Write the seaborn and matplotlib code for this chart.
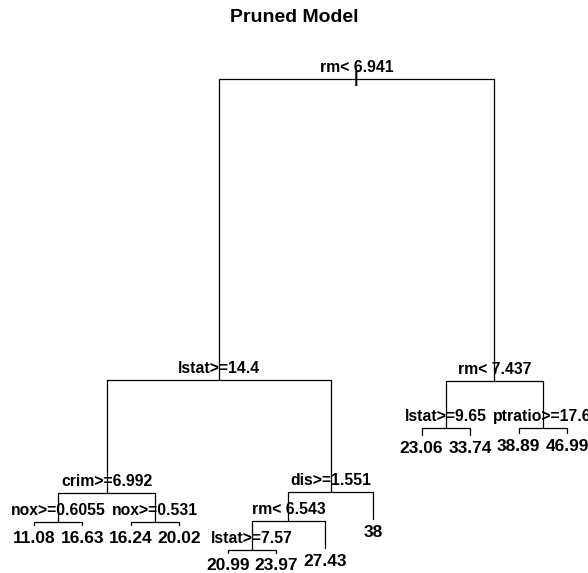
import matplotlib
matplotlib.use("Agg")
import matplotlib.pyplot as plt
import seaborn as sns
import pandas as pd

# rpart-style tree: node id, label, height (fit-improvement scale)
node_ids = [1, 2, 3, 4, 5, 8, 9, 16, 17, 18, 19, 10, 11, 20, 21, 40, 41, 6, 7, 12, 13, 14, 15]
node_labels = ["rm< 6.941", "lstat>=14.4", "rm< 7.437", "crim>=6.992", "dis>=1.551",
               "nox>=0.6055", "nox>=0.531", "11.08", "16.63", "16.24", "20.02",
               "rm< 6.543", "38", "lstat>=7.57", "27.43", "20.99", "23.97",
               "lstat>=9.65", "ptratio>=17.6", "23.06", "33.74", "38.89", "46.99"]
node_heights = [100, 37.4, 37.2, 13.9, 14.1, 7.9, 7.9, 7.3, 7.3, 7.3, 7.3,
                8.1, 8.5, 2.1, 2.5, 1.5, 1.5, 27.4, 27.4, 26.0, 26.0, 26.4, 26.4]
title = "Pruned Model"

height = dict(zip(node_ids, node_heights))
label = dict(zip(node_ids, node_labels))
idset = set(node_ids)

def children(n):
    return [c for c in (2 * n, 2 * n + 1) if c in idset]

# leaf x positions: equally spaced in left-to-right order; internal = midpoint
xpos = {}
counter = [0]
def assign(n):
    ch = children(n)
    if not ch:
        counter[0] += 1
        xpos[n] = counter[0]
    else:
        for c in ch:
            assign(c)
        xpos[n] = sum(xpos[c] for c in ch) / len(ch)
assign(1)

rows = []
for n in node_ids:
    if n == 1:
        continue
    p = n // 2
    rows += [dict(edge=n, order=0, x=xpos[p], y=height[p]),
             dict(edge=n, order=1, x=xpos[n], y=height[p]),
             dict(edge=n, order=2, x=xpos[n], y=height[n])]
edges = pd.DataFrame(rows)

sns.set_theme(style="white")
plt.rcParams['font.family'] = ['Liberation Sans', 'DejaVu Sans']
plt.rcParams['text.color'] = 'black'

fig = plt.figure(figsize=(5.88, 5.73), dpi=100)
ax = fig.add_axes([0, 0, 1, 1])
sns.lineplot(data=edges, x="x", y="y", units="edge", estimator=None, sort=False,
             color="black", lw=0.9, ax=ax, legend=False)
ax.set_xlim(0.298, 12.434)
ax.set_ylim(-2.70, 116.42)
ax.axis("off")

for n in node_ids:
    if children(n):
        ax.annotate(label[n], (xpos[n], height[n]), xytext=(0, 8.5), textcoords="offset points",
                    ha="center", va="center", fontsize=11.3, fontweight="bold", color="black")
    else:
        ax.annotate(label[n], (xpos[n], height[n]), xytext=(0, -9.5), textcoords="offset points",
                    ha="center", va="center", fontsize=12.5, fontweight="bold", color="black")
ax.annotate("|", (xpos[1], height[1]), ha="center", va="center", fontsize=12,
            fontweight="heavy", color="black")

fig.text(0.5, 1 - 18 / 573, title, ha="center", va="center", fontsize=14,
         fontweight="heavy", color="black")
fig.savefig("out.png", dpi=100)
